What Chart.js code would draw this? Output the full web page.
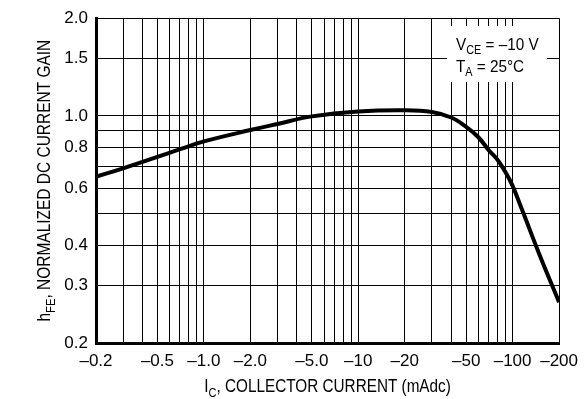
<!DOCTYPE html>
<html>
<head>
<meta charset="utf-8">
<script src="https://cdn.jsdelivr.net/npm/chart.js@4.4.1/dist/chart.umd.min.js"></script>
<style>
  body { margin: 0; background: #fff; }
  #wrap { width: 586px; height: 399px; }
</style>
</head>
<body>
<div id="wrap"><canvas id="gainChart" width="586" height="399"></canvas></div>
<script>
// collector current magnitude (mA) and normalized hFE
const currentMa = [0.2, 0.3, 0.4, 0.5, 0.7, 1, 2, 3, 5, 10, 20, 30, 40, 50, 60, 70, 80, 90, 100, 115, 150, 200];
const gainNorm = [0.65, 0.69, 0.722, 0.748, 0.79, 0.835, 0.905, 0.945, 0.997, 1.033, 1.042, 1.029, 0.989, 0.926, 0.86, 0.785, 0.732, 0.671, 0.609, 0.515, 0.372, 0.267];

// grid lines and the tick labels shown on them
const xGrid = [0.2, 0.3, 0.4, 0.5, 0.6, 0.7, 0.8, 0.9, 1, 2, 3, 4, 5, 6, 7, 8, 9, 10, 20, 30, 40, 50, 60, 70, 80, 90, 100, 200];
const xTickValues = [0.2, 0.5, 1, 2, 5, 10, 20, 50, 100, 200];
const xTickLabels = ['–0.2', '–0.5', '–1.0', '–2.0', '–5.0', '–10', '–20', '–50', '–100', '–200'];
const yGrid = [0.2, 0.3, 0.4, 0.5, 0.6, 0.7, 0.8, 0.9, 1, 1.5, 2];
const yTickValues = [0.2, 0.3, 0.4, 0.6, 0.8, 1, 1.5, 2];
const yTickLabels = ['0.2', '0.3', '0.4', '0.6', '0.8', '1.0', '1.5', '2.0'];

const FONT = "'Liberation Sans', Arial, sans-serif";

function labelFor(values, labels, v) {
    const i = values.findIndex(t => Math.abs(t - v) < 1e-9);
    return i >= 0 ? labels[i] : '';
}

// draws a run of text parts (some as subscripts), squeezed horizontally
function drawParts(ctx, parts, x, y, align, size, squeeze) {
    const subSize = Math.round(size * 0.72);
    let total = 0;
    parts.forEach(p => {
        ctx.font = (p.sub ? subSize : size) + 'px ' + FONT;
        p.w = ctx.measureText(p.t).width;
        total += p.w;
    });
    ctx.save();
    ctx.translate(x, y);
    ctx.scale(squeeze, 1);
    let cx = align === 'center' ? -total / 2 : 0;
    parts.forEach(p => {
        ctx.font = (p.sub ? subSize : size) + 'px ' + FONT;
        ctx.fillText(p.t, cx, p.sub ? size * 0.25 : 0);
        cx += p.w;
    });
    ctx.restore();
}

const labelsPlugin = {
    id: 'labels',
    beforeDatasetsDraw(chart) {
        const ctx = chart.ctx;
        ctx.save();
        // white box behind the conditions note
        ctx.fillStyle = '#fff';
        ctx.fillRect(447, 26, 100, 56);
        ctx.fillStyle = '#000';
        ctx.textBaseline = 'alphabetic';
        ctx.textAlign = 'left';
        drawParts(ctx, [{t: 'V'}, {t: 'CE', sub: true}, {t: ' = –10 V'}], 456, 50, 'left', 17, 0.9);
        drawParts(ctx, [{t: 'T'}, {t: 'A', sub: true}, {t: ' = 25°C'}], 456, 72, 'left', 17, 0.9);
        ctx.restore();
    },
    afterDraw(chart) {
        const ctx = chart.ctx;
        const area = chart.chartArea;
        ctx.save();
        ctx.fillStyle = '#000';
        ctx.textAlign = 'left';
        ctx.textBaseline = 'alphabetic';
        drawParts(ctx, [{t: 'I'}, {t: 'C', sub: true}, {t: ', COLLECTOR CURRENT (mAdc)'}],
            (area.left + area.right) / 2, 392, 'center', 18, 0.85);
        ctx.translate(50, (area.top + area.bottom) / 2);
        ctx.rotate(-Math.PI / 2);
        drawParts(ctx, [{t: 'h'}, {t: 'FE', sub: true}, {t: ', NORMALIZED DC CURRENT GAIN'}], 0, 0, 'center', 18, 0.86);
        ctx.restore();
    }
};

new Chart(document.getElementById('gainChart'), {
    type: 'line',
    plugins: [labelsPlugin],
    data: {
        datasets: [{
            data: currentMa.map((c, i) => ({x: c, y: gainNorm[i]})),
            borderColor: '#000',
            borderWidth: 4,
            pointRadius: 0,
            tension: 0.4,
            fill: false
        }]
    },
    options: {
        responsive: false,
        animation: false,
        layout: { padding: { left: 0, right: 20, top: 14, bottom: 0 } },
        plugins: { legend: { display: false }, tooltip: { enabled: false } },
        scales: {
            x: {
                type: 'logarithmic',
                min: 0.2,
                max: 200,
                afterBuildTicks: s => { s.ticks = xGrid.map(v => ({value: v})); },
                afterFit: s => { s.height = 56; },
                grid: { color: '#000', lineWidth: 1, drawTicks: false },
                border: { display: true, color: '#000', width: 3 },
                ticks: {
                    autoSkip: false,
                    maxRotation: 0,
                    padding: 8,
                    color: '#000',
                    font: { family: FONT, size: 17 },
                    callback: v => labelFor(xTickValues, xTickLabels, v)
                }
            },
            y: {
                type: 'logarithmic',
                min: 0.2,
                max: 2,
                afterBuildTicks: s => { s.ticks = yGrid.map(v => ({value: v})); },
                afterFit: s => { s.width = 96; },
                grid: { color: '#000', lineWidth: 1, drawTicks: false },
                border: { display: true, color: '#000', width: 3 },
                ticks: {
                    autoSkip: false,
                    padding: 8,
                    color: '#000',
                    font: { family: FONT, size: 17 },
                    callback: v => labelFor(yTickValues, yTickLabels, v)
                }
            }
        }
    }
});
</script>
</body>
</html>
